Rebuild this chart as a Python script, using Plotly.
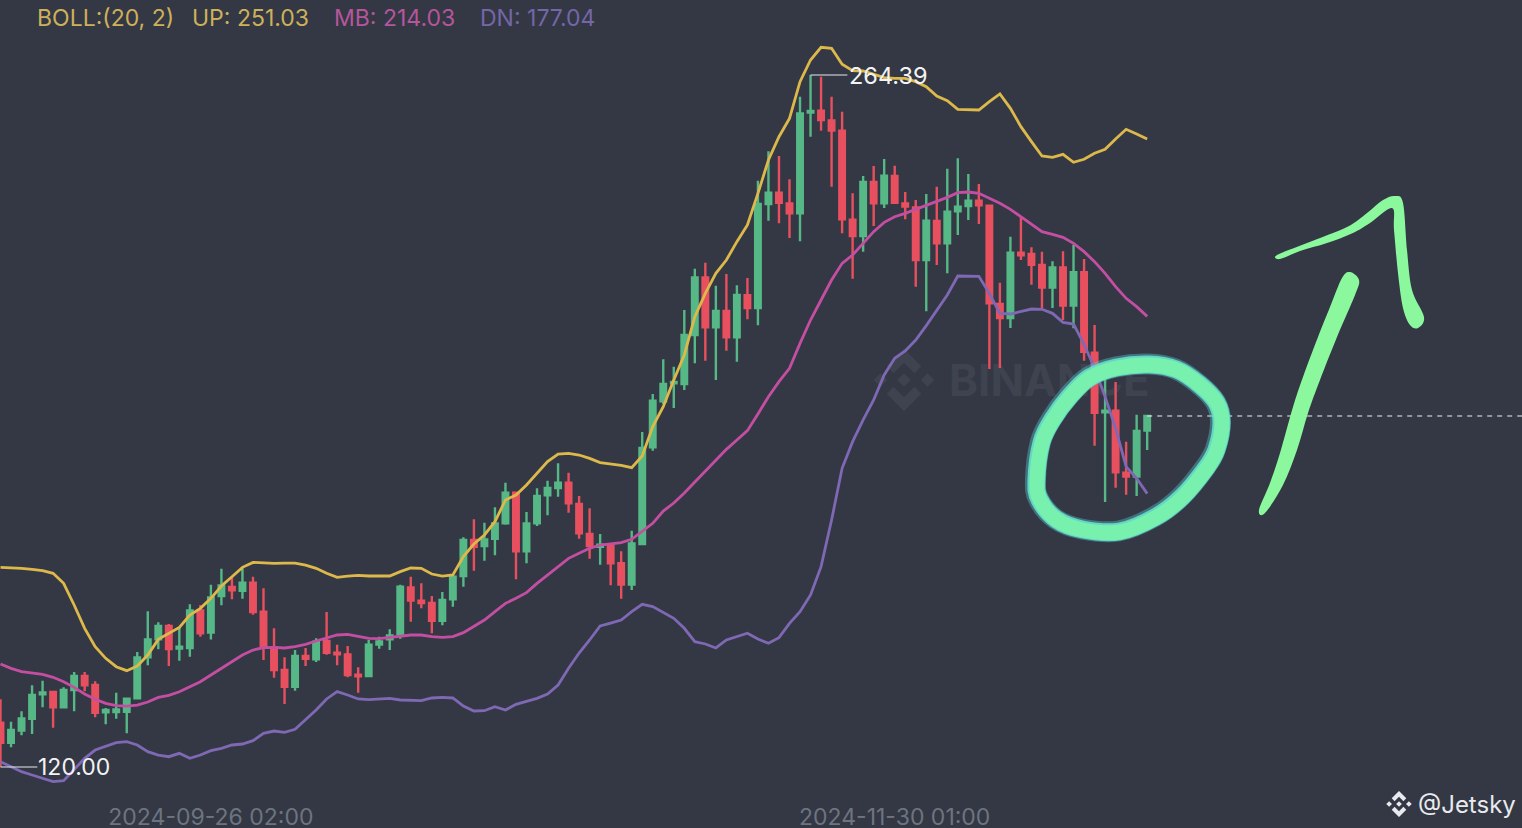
import pandas as pd
import plotly.graph_objects as go

W, H, BOTTOM = 1522, 828, 24

dates = pd.date_range('2024-09-06', periods=110, freq='D')

opens = [129.25, 125.07, 127.58, 130.08, 135.16, 135.65, 132.45, 136.06, 138.98, 137.11,
         131.40, 131.47, 131.54, 134.32, 142.88, 146.63, 149.42, 144.69, 144.83, 152.68,
         148.03, 155.68, 157.55, 156.79, 158.46, 152.41, 144.97, 140.24, 136.76, 143.16,
         142.46, 146.29, 143.86, 143.51, 139.27, 138.99, 145.53, 146.64, 147.75, 157.49,
         154.71, 154.22, 150.53, 154.99, 159.85, 167.37, 166.11, 167.64, 170.84, 177.24,
         165.00, 170.84, 176.68, 178.21, 179.33, 174.88, 168.62, 165.97, 166.25, 162.50,
         158.05, 166.53, 186.70, 196.30, 200.06, 199.92, 210.14, 222.17, 211.74, 215.15,
         209.65, 218.42, 215.77, 237.47, 239.84, 237.61, 235.53, 256.53, 256.95, 254.93,
         252.78, 234.21, 230.80, 242.06, 237.61, 243.32, 237.61, 236.78, 225.79, 233.93,
         229.27, 235.94, 237.06, 238.17, 237.13, 216.61, 213.69, 227.32, 227.04, 224.75,
         220.02, 224.26, 216.26, 223.22, 206.45, 194.01, 194.36, 181.42, 180.58, 190.18]
closes = [125.07, 127.72, 130.15, 135.02, 135.58, 132.45, 136.06, 138.98, 137.04, 131.33,
          131.89, 132.03, 134.25, 142.88, 146.63, 149.42, 144.62, 145.10, 152.68, 147.89,
          155.40, 157.90, 156.86, 158.46, 152.34, 144.97, 140.24, 136.76, 143.16, 142.60,
          146.15, 143.85, 143.51, 139.20, 138.92, 145.53, 146.22, 147.47, 157.63, 154.71,
          154.22, 150.53, 154.85, 159.71, 167.37, 165.97, 167.50, 170.84, 177.24, 165.00,
          170.84, 176.55, 178.21, 179.33, 175.02, 168.76, 166.11, 166.39, 162.50, 158.05,
          166.67, 186.56, 196.44, 199.92, 200.34, 210.14, 222.17, 211.74, 215.15, 209.65,
          218.49, 215.77, 237.47, 239.84, 237.75, 235.53, 256.39, 256.88, 255.00, 252.78,
          234.28, 230.80, 242.06, 237.61, 243.39, 237.75, 236.92, 225.79, 234.00, 229.27,
          235.87, 236.92, 238.17, 237.19, 216.75, 213.69, 227.32, 226.76, 224.81, 220.02,
          224.26, 216.26, 223.22, 206.66, 193.93, 194.36, 181.49, 180.58, 190.11, 193.24]
highs = [134.12, 129.46, 131.61, 137.04, 138.01, 135.92, 136.62, 139.82, 139.82, 137.87,
         132.31, 135.51, 134.39, 144.00, 152.48, 150.18, 149.83, 149.14, 153.94, 153.80,
         158.04, 161.38, 159.57, 161.52, 159.71, 157.28, 148.93, 142.88, 144.41, 144.83,
         146.84, 152.34, 145.53, 145.25, 140.80, 146.50, 147.20, 148.73, 158.05, 159.71,
         158.32, 155.68, 156.52, 160.06, 167.92, 171.68, 170.98, 174.18, 179.33, 177.45,
         173.21, 178.15, 179.75, 183.36, 181.41, 176.55, 173.97, 168.62, 166.25, 165.00,
         169.31, 189.90, 197.83, 205.06, 203.53, 215.36, 223.98, 225.23, 220.43, 222.87,
         220.50, 222.03, 242.34, 248.46, 247.49, 242.62, 259.87, 264.39, 264.04, 259.87,
         256.74, 239.70, 243.32, 245.40, 246.86, 245.47, 239.98, 238.31, 239.56, 241.09,
         244.85, 247.00, 243.73, 241.65, 237.26, 221.06, 230.66, 234.83, 228.43, 227.53,
         225.51, 227.60, 228.92, 226.00, 212.22, 202.15, 200.34, 187.89, 193.52, 193.24]
lows = [120.00, 124.10, 126.60, 126.88, 132.45, 128.20, 132.38, 131.61, 135.78, 130.36,
        128.90, 130.08, 127.02, 134.25, 141.21, 144.55, 141.07, 142.18, 143.02, 147.19,
        146.63, 153.73, 154.98, 155.12, 151.78, 142.32, 138.64, 133.14, 135.92, 141.07,
        141.90, 143.43, 141.21, 138.71, 135.51, 138.71, 144.69, 144.41, 146.78, 150.33,
        153.11, 147.89, 149.56, 153.46, 157.63, 160.97, 163.05, 164.17, 170.56, 159.16,
        162.50, 170.29, 172.51, 176.41, 173.07, 167.64, 163.47, 162.22, 157.91, 155.12,
        156.93, 166.39, 186.01, 195.75, 194.91, 198.67, 204.23, 204.79, 200.75, 206.87,
        204.58, 213.41, 212.16, 234.00, 233.44, 230.38, 229.68, 251.52, 252.78, 241.09,
        231.35, 221.90, 227.53, 232.88, 236.64, 237.61, 234.27, 220.22, 215.08, 224.75,
        223.01, 231.00, 234.13, 233.30, 203.04, 203.25, 211.60, 225.79, 220.64, 215.63,
        215.77, 213.27, 211.53, 204.78, 187.04, 175.30, 178.29, 176.83, 176.55, 186.15]

boll_up = [161.66, 161.59, 161.45, 161.24, 160.96, 160.41, 158.32, 153.80, 148.93, 145.10,
           142.67, 140.93, 140.10, 141.07, 143.37, 146.63, 147.89, 149.14, 151.71, 153.10,
           155.19, 157.76, 159.71, 161.66, 162.70, 162.56, 162.49, 162.56, 162.56, 162.14,
           161.45, 160.41, 159.58, 159.85, 159.99, 159.85, 159.78, 159.85, 160.76, 161.52,
           161.45, 160.27, 159.85, 160.06, 163.89, 166.53, 168.41, 171.19, 175.71, 176.75,
           178.84, 181.28, 183.71, 185.31, 185.45, 185.10, 184.40, 183.50, 183.29, 182.94,
           182.46, 184.89, 191.02, 195.19, 200.75, 205.97, 213.97, 218.84, 223.01, 225.79,
           229.62, 233.09, 239.70, 246.66, 251.52, 255.35, 263.00, 267.52, 270.17, 269.96,
           266.62, 265.30, 265.23, 264.60, 263.84, 263.70, 263.70, 263.00, 261.96, 260.01,
           259.04, 257.23, 257.16, 257.09, 258.83, 260.43, 257.44, 253.61, 250.48, 247.49,
           247.21, 247.84, 246.17, 246.80, 248.05, 248.88, 251.04, 253.06, 252.08, 251.03]
boll_mb = [141.49, 140.58, 139.89, 139.54, 139.33, 138.71, 137.80, 136.62, 135.23, 134.12,
           133.28, 132.79, 132.72, 132.93, 133.56, 134.53, 134.95, 135.71, 136.76, 137.80,
           139.19, 140.58, 141.97, 143.37, 144.41, 144.90, 144.97, 144.83, 145.10, 145.59,
           146.29, 146.84, 147.54, 147.68, 147.20, 146.85, 146.78, 146.99, 147.33, 147.54,
           147.54, 147.20, 147.06, 147.20, 148.03, 149.28, 150.67, 152.41, 154.15, 155.19,
           156.38, 158.32, 160.06, 161.80, 163.54, 164.58, 165.63, 166.32, 166.60, 166.81,
           167.50, 169.10, 170.84, 173.41, 175.08, 177.17, 179.46, 181.76, 184.06, 186.28,
           188.23, 190.18, 193.66, 197.27, 200.40, 203.19, 208.40, 213.27, 217.44, 221.62,
           225.09, 226.83, 229.27, 231.70, 233.65, 234.83, 235.53, 236.36, 237.06, 237.96,
           238.86, 239.84, 239.98, 239.70, 238.66, 237.61, 236.36, 234.83, 233.30, 231.70,
           231.14, 230.52, 229.27, 227.53, 225.44, 223.01, 220.22, 217.79, 216.05, 214.03]
boll_dn = [121.11, 120.07, 119.02, 118.33, 117.63, 116.94, 117.14, 119.37, 121.80, 123.54,
           124.24, 125.07, 125.28, 124.59, 123.20, 122.50, 122.15, 122.85, 121.80, 122.50,
           123.40, 123.89, 124.59, 124.80, 125.49, 127.02, 127.51, 127.23, 127.86, 129.80,
           131.89, 134.20, 135.72, 135.02, 134.19, 134.05, 134.19, 134.33, 133.98, 133.84,
           133.84, 134.40, 134.54, 134.40, 132.73, 131.69, 131.75, 132.59, 131.89, 133.08,
           133.63, 134.33, 135.23, 137.11, 140.59, 143.78, 146.50, 149.42, 150.04, 150.67,
           152.40, 153.95, 153.46, 152.21, 151.03, 148.94, 146.16, 145.67, 144.84, 146.51,
           147.20, 147.90, 146.71, 145.81, 146.99, 149.98, 152.42, 155.89, 161.81, 171.54,
           182.32, 187.89, 192.41, 196.58, 201.80, 205.27, 206.80, 209.10, 212.09, 215.36,
           218.49, 222.45, 222.45, 222.38, 218.83, 214.66, 214.52, 215.01, 215.56, 215.50,
           214.66, 212.78, 212.43, 208.20, 203.19, 197.28, 190.67, 182.67, 180.24, 177.04]

last_price = 193.24
tick_dates = ['2024-09-26', '2024-11-30']
tick_labels = ['2024-09-26 02:00', '2024-11-30 01:00']

BG = '#333844'
GREEN = '#56B886'
RED = '#E8505F'
YELLOW = '#DDB94B'
MAGENTA = '#C44FA2'
PURPLE = '#7F68B4'


def px(x):
    return x / W


def py(y):
    return 1 - y / (H - BOTTOM)


def smooth(points, closed=False):
    # catmull-rom through hand traced points, as an svg path in paper coords
    n = len(points)
    get = (lambda k: points[k % n]) if closed else (lambda k: points[min(max(k, 0), n - 1)])
    path = 'M {:.5f},{:.5f}'.format(px(points[0][0]), py(points[0][1]))
    for i in range(n if closed else n - 1):
        p0, p1, p2, p3 = get(i - 1), get(i), get(i + 1), get(i + 2)
        c1 = (p1[0] + (p2[0] - p0[0]) / 6, p1[1] + (p2[1] - p0[1]) / 6)
        c2 = (p2[0] - (p3[0] - p1[0]) / 6, p2[1] - (p3[1] - p1[1]) / 6)
        path += ' C {:.5f},{:.5f} {:.5f},{:.5f} {:.5f},{:.5f}'.format(
            px(c1[0]), py(c1[1]), px(c2[0]), py(c2[1]), px(p2[0]), py(p2[1]))
    return path + (' Z' if closed else '')


def poly(points):
    return 'M ' + ' L '.join('{:.5f},{:.5f}'.format(px(a), py(b)) for a, b in points) + ' Z'


def logo(cx, cy, r, color, layer):
    # binance mark: two chevrons and three small diamonds
    top = [(0, -1), (.56, -.44), (.34, -.22), (0, -.56), (-.34, -.22), (-.56, -.44)]
    bottom = [(a, -b) for a, b in top]
    shapes = []
    for part in [top, bottom]:
        shapes.append([(cx + a * r, cy + b * r) for a, b in part])
    for ox in [-.76, 0, .76]:
        d = .22
        shapes.append([(cx + ox * r, cy - d * r), (cx + (ox + d) * r, cy),
                       (cx + ox * r, cy + d * r), (cx + (ox - d) * r, cy)])
    return [dict(type='path', path=poly(s), xref='paper', yref='paper', layer=layer,
                 fillcolor=color, line=dict(width=0)) for s in shapes]


def note(x, y, text, color, size):
    return dict(x=px(x), y=py(y), xref='paper', yref='paper', text=text, showarrow=False,
                xanchor='left', yanchor='middle', align='left',
                font=dict(family='Inter', size=size, color=color))


fig = go.Figure()
fig.add_trace(go.Candlestick(x=dates, open=opens, high=highs, low=lows, close=closes,
                             increasing=dict(line=dict(color=GREEN, width=2.4), fillcolor=GREEN),
                             decreasing=dict(line=dict(color=RED, width=2.4), fillcolor=RED),
                             whiskerwidth=0, showlegend=False))
for name, values, color in [('UP', boll_up, YELLOW), ('MB', boll_mb, MAGENTA), ('DN', boll_dn, PURPLE)]:
    fig.add_trace(go.Scatter(x=dates, y=values, name=name, mode='lines', showlegend=False,
                             line=dict(color=color, width=2.8)))

circle = [(1037, 480), (1042, 443), (1053, 420), (1070, 397), (1090, 378), (1117, 368), (1150, 365),
          (1177, 370), (1200, 385), (1217, 403), (1222, 423), (1217, 450), (1207, 468), (1183, 497),
          (1157, 517), (1120, 532), (1083, 530), (1057, 520), (1040, 500)]
shaft = [(1259, 510), (1270, 483), (1280, 453), (1293, 407), (1303, 377), (1318, 337), (1330, 307),
         (1342, 278), (1350, 272), (1359, 280), (1355, 295), (1337, 337), (1320, 380), (1308, 413),
         (1297, 450), (1283, 485), (1265, 513)]
head = [(1277, 255), (1307, 243), (1347, 227), (1367, 213), (1383, 200), (1395, 196), (1403, 203),
        (1407, 250), (1412, 290), (1424, 317), (1418, 328), (1410, 325), (1403, 308), (1398, 273),
        (1394, 230), (1392, 208), (1370, 223), (1353, 233), (1327, 243), (1300, 251), (1280, 259)]

shapes = logo(904, 380, 31, '#3E434F', 'below')
shapes.append(dict(type='rect', xref='paper', yref='paper', x0=px(946), x1=px(1230), y0=py(395), y1=py(363),
                   layer='below', line=dict(width=0),
                   label=dict(text='<b>BINANCE</b>', textposition='middle left', padding=0,
                              font=dict(family='Inter', size=44, color='#3E434F'))))
# price markers and last price line
shapes.append(dict(type='line', xref='x', yref='y', x0=dates[77], x1=dates[77] + pd.Timedelta(hours=84),
                   y0=highs[77], y1=highs[77], line=dict(color='#E6E8EC', width=1.2)))
shapes.append(dict(type='line', xref='x', yref='y', x0=dates[0], x1=dates[0] + pd.Timedelta(hours=84),
                   y0=lows[0], y1=lows[0], line=dict(color='#E6E8EC', width=1.2)))
shapes.append(dict(type='line', xref='x', yref='y', x0=dates[-1], x1='2025-01-28 15:07',
                   y0=last_price, y1=last_price, line=dict(color='#EDEFF2', width=1.2, dash='5px,5px')))
# hand drawn marks, soft edge built from stacked strokes
for dx, dy, color, width, alpha in [(-1.5, -1, '#57C9D2', 21, .4), (-.5, -.5, '#66E2CC', 18, .9),
                                    (0, 0, '#78F0AE', 15, 1)]:
    shapes.append(dict(type='path', path=smooth([(a + dx, b + dy) for a, b in circle], closed=True), xref='paper',
                       yref='paper', line=dict(color=color, width=width), opacity=alpha))
for outline in [shaft, head]:
    shapes.append(dict(type='path', path=smooth(outline, closed=True), xref='paper', yref='paper',
                       fillcolor='#8CF89E', line=dict(width=0)))
shapes += logo(1399, 804, 13, '#E8EAED', 'above')

annotations = [note(35, 18, 'BOLL:(20, 2)', '#CDB15A', 23),
               note(190, 18, 'UP: 251.03', '#CDB15A', 23),
               note(332, 18, 'MB: 214.03', '#B5569C', 23),
               note(478, 18, 'DN: 177.04', '#7566A8', 23),
               note(847, 75, '264.39', '#F2F3F5', 23.5),
               note(36, 767, '120.00', '#F2F3F5', 23),
               note(1416, 804, '@Jetsky', '#E8EAED', 24)]

fig.update_layout(
    width=W, height=H,
    margin=dict(l=0, r=0, t=0, b=BOTTOM),
    paper_bgcolor=BG, plot_bgcolor=BG,
    boxgap=0.25,
    showlegend=False,
    shapes=shapes,
    annotations=annotations,
    xaxis=dict(range=['2024-09-05 22:52', '2025-01-28 15:07'], rangeslider=dict(visible=False),
               automargin=False, showgrid=False, zeroline=False, showline=False, ticks='',
               ticklabelstandoff=-3,
               tickmode='array', tickvals=tick_dates, ticktext=tick_labels,
               tickfont=dict(family='Inter', size=23, color='#6D7480')),
    yaxis=dict(range=[112.28, 280.04], visible=False, automargin=False, showgrid=False, zeroline=False),
)

fig.write_html("out.html", config=dict(displayModeBar=False),
               post_script="document.body.style.margin='0';")
